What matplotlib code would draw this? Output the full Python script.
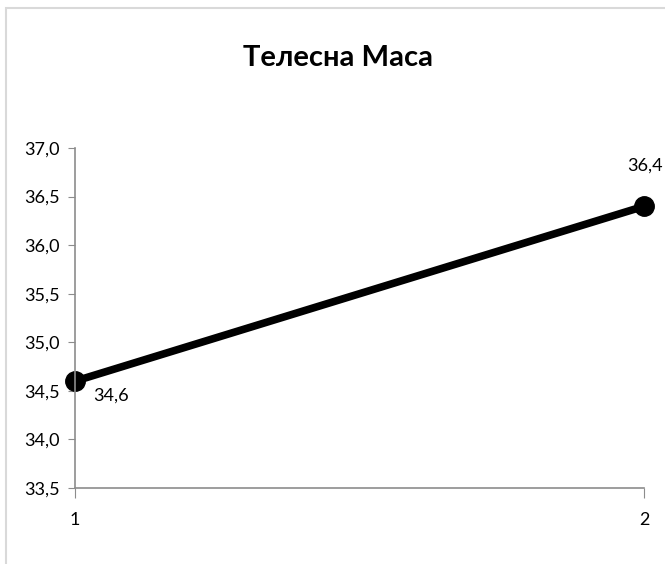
import matplotlib
matplotlib.use("Agg")
import matplotlib.pyplot as plt
from matplotlib.patches import Rectangle

plt.rcParams['font.family'] = ['Lato', 'DejaVu Sans']

x_vals = [1, 2]
y_vals = [34.6, 36.4]
labels = ["34,6", "36,4"]
y_ticks = [33.5, 34.0, 34.5, 35.0, 35.5, 36.0, 36.5, 37.0]
title = "Телесна Маса"

fig = plt.figure(figsize=(6.65, 5.64), dpi=100)
fig.patches.append(Rectangle((6/665, -0.1), 1.2, (564-8)/564 + 0.1, transform=fig.transFigure,
                             fill=False, edgecolor='#d9d9d9', linewidth=1.5))
ax = fig.add_axes([75/665, (564-488)/564, (644-75)/665, (488-148)/564])
ax.plot(x_vals, y_vals, color='black', linewidth=5.5, marker='o', markersize=14, clip_on=False,
        solid_capstyle='round')
ax.set_xlim(1, 2)
ax.set_ylim(33.5, 37.0)
ax.set_yticks(y_ticks)
ax.set_yticklabels([f"{v:.1f}".replace('.', ',') for v in y_ticks])
ax.set_xticks(x_vals)
ax.set_xticklabels([str(v) for v in x_vals])
for s in ['top', 'right']:
    ax.spines[s].set_visible(False)
for s in ['left', 'bottom']:
    ax.spines[s].set_color('#8c8c8c')
    ax.spines[s].set_linewidth(1.2)
ax.tick_params(axis='y', direction='out', length=5, color='#8c8c8c', labelsize=13, pad=6)
ax.tick_params(axis='x', direction='out', length=7, color='#8c8c8c', labelsize=13, pad=10)

ax.annotate(labels[0], (x_vals[0], y_vals[0]), xytext=(18, -14), textcoords='offset pixels',
            ha='left', va='center', fontsize=13)
ax.annotate(labels[1], (x_vals[1], y_vals[1]), xytext=(1, 41), textcoords='offset pixels',
            ha='center', va='center', fontsize=13)

fig.text(338/665, 1 - 58/564, title, ha='center', va='center', fontsize=21, fontweight='bold')

fig.savefig("out.png", dpi=100)
